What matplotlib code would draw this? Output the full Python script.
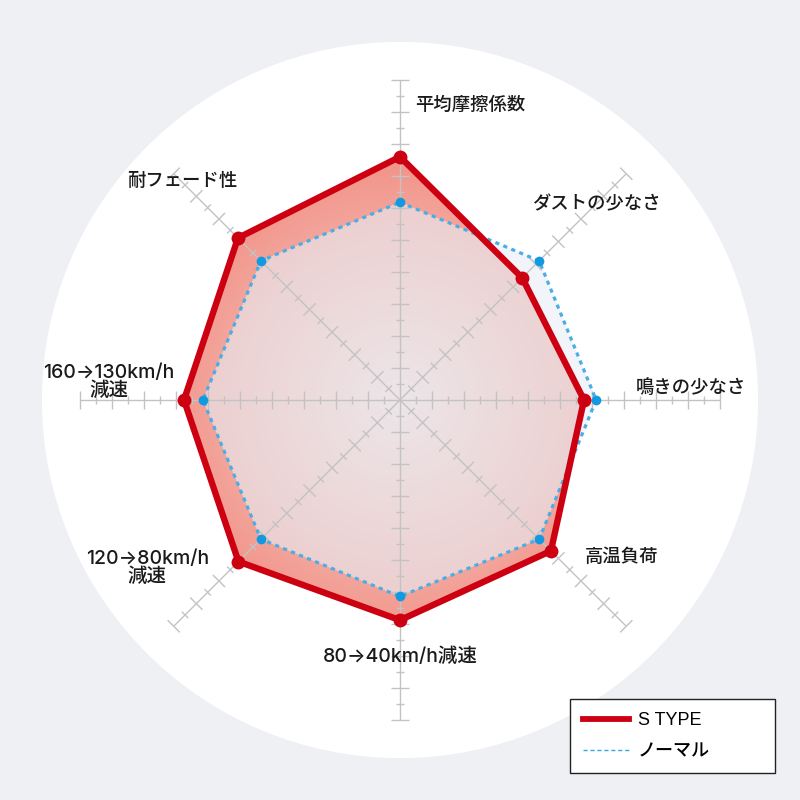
import numpy as np
import matplotlib
matplotlib.use('Agg')
import matplotlib.pyplot as plt
from matplotlib.patches import Polygon, Circle
from matplotlib.collections import LineCollection
from matplotlib.lines import Line2D
import matplotlib.colors as mcolors

plt.rcParams['font.family'] = ['Noto Sans CJK JP', 'DejaVu Sans']

# categories, clockwise from the top
categories = ['平均摩擦係数', 'ダストの少なさ', '鳴きの少なさ', '高温負荷',
              '80→40km/h減速', '120→80km/h\n減速', '160→130km/h\n減速', '耐フェード性']
stype = [7.6, 5.4, 5.75, 6.67, 6.88, 7.14, 6.75, 7.16]
normal = [6.18, 6.15, 6.13, 6.15, 6.14, 6.15, 6.16, 6.15]
series_names = ['S TYPE', 'ノーマル']
r_max = 10

# label placement (data units, centre at 0,0)
label_pos = [(0.47, 9.22, 'left'), (4.12, 6.09, 'left'), (7.38, 0.38, 'left'),
             (5.78, -4.9, 'left'), (0.0, -8.03, 'center'), (-7.9, -5.25, 'center'),
             (-9.1, 0.56, 'center'), (-8.53, 6.84, 'left')]

red = '#cc0011'
blue_line = '#4aaee4'
blue_dot = '#1399e0'
label_font = ['Inter', 'Noto Sans CJK JP', 'DejaVu Sans']
legend_font = ['Liberation Sans', 'Noto Sans CJK JP', 'DejaVu Sans']

angles = np.deg2rad(90 - 45 * np.arange(len(categories)))


def to_xy(vals):
    vals = np.asarray(vals)
    return np.column_stack([vals * np.cos(angles), vals * np.sin(angles)])


fig = plt.figure(figsize=(8, 8), dpi=100, facecolor='#eff0f4')
ax = fig.add_axes([0, 0, 1, 1])
ax.set_xlim(-12.5, 12.5)
ax.set_ylim(-12.5, 12.5)
ax.axis('off')

# white disc behind the chart
ax.add_patch(Circle((0, 0), 11.19, facecolor='white', edgecolor='none', zorder=0))

# radial gradient fill for S TYPE
s_xy = to_xy(stype)
n_xy = to_xy(normal)
g = np.linspace(-12.5, 12.5, 800)
X, Y = np.meshgrid(g, g)
t = np.clip(np.hypot(X, Y) / 7.3, 0, 1)[..., None] ** 1.1
c0 = np.array(mcolors.to_rgb('#f2d8d5'))
c1 = np.array(mcolors.to_rgb('#f2958a'))
img = c0 * (1 - t) + c1 * t
im = ax.imshow(img, extent=(-12.5, 12.5, -12.5, 12.5), origin='lower',
               interpolation='bilinear', zorder=1)
clip = Polygon(s_xy, closed=True, transform=ax.transData)
im.set_clip_path(clip)

# light overlay for the normal area
ax.add_patch(Polygon(n_xy, closed=True, facecolor='#e8eef5', alpha=0.6,
                     edgecolor='none', zorder=2))

# axes with tick marks
segs = []
for a in angles:
    u = np.array([np.cos(a), np.sin(a)])
    p = np.array([-np.sin(a), np.cos(a)])
    segs.append([(0, 0), tuple(u * r_max)])
    for k in range(1, 21):
        r = k * 0.5
        half = 0.27 if k % 2 == 0 else 0.14
        segs.append([tuple(u * r - p * half), tuple(u * r + p * half)])
ax.add_collection(LineCollection(segs, colors='#c3c3c3', linewidths=1.0, zorder=3))

# normal series
nx = np.append(n_xy[:, 0], n_xy[0, 0])
ny = np.append(n_xy[:, 1], n_xy[0, 1])
ax.plot(nx, ny, color=blue_line, lw=2.3, linestyle=(0, (1.3, 1.4)), zorder=4)
ax.plot(n_xy[:, 0], n_xy[:, 1], 'o', color=blue_dot, ms=7, mec='none', zorder=5)

# S TYPE series
sx = np.append(s_xy[:, 0], s_xy[0, 0])
sy = np.append(s_xy[:, 1], s_xy[0, 1])
ax.plot(sx, sy, color=red, lw=4.6, solid_joinstyle='miter', zorder=6)
ax.plot(s_xy[:, 0], s_xy[:, 1], 'o', color=red, ms=10, mec='none', zorder=7)

for name, (x, y, ha) in zip(categories, label_pos):
    size = 14 if 'km/h' in name else 13.2
    ax.text(x, y, name, ha=ha, va='center', fontsize=size, color='#1a1a1a',
            family=label_font, weight='medium',
            linespacing=0.95, multialignment='center', zorder=8)

# legend
handles = [Line2D([], [], color=red, lw=4.2),
           Line2D([], [], color='#33aadd', lw=1.0, linestyle=(0, (3, 2)))]
leg = ax.legend(handles, series_names, loc='lower left', mode='expand',
                bbox_to_anchor=(570 / 800, (800 - 773) / 800, 205 / 800, 75 / 800),
                bbox_transform=fig.transFigure,
                frameon=True, fancybox=False, edgecolor='#222222', facecolor='white',
                framealpha=1, handlelength=2.55, handletextpad=0.5,
                borderpad=0.72, labelspacing=0.75, borderaxespad=0,
                prop={'family': legend_font, 'size': 13, 'weight': 'medium'})
leg.get_frame().set_linewidth(1.0)

fig.savefig('out.png', dpi=100, facecolor=fig.get_facecolor())
